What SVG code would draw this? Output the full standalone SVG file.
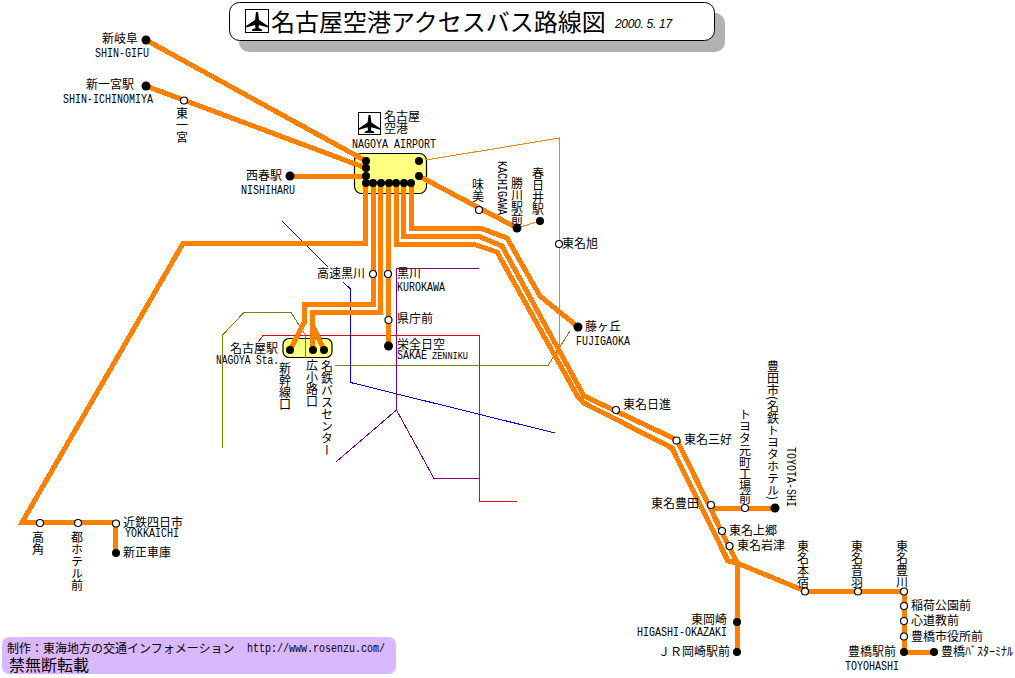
<svg xmlns="http://www.w3.org/2000/svg" width="1015" height="678" viewBox="0 0 1015 678" xml:lang="ja">
<style>
text{fill:#000;font-family:"Noto Sans CJK JP","Noto Sans CJK SC",sans-serif;font-size:12px}
.l{font-family:"Liberation Mono",monospace}
.v{writing-mode:vertical-rl}
.tk{fill:none;stroke:#ff8000;stroke-width:5;stroke-linejoin:miter;shape-rendering:crispEdges}
.th{fill:none;stroke-width:1;shape-rendering:crispEdges}
.o{fill:#fff;stroke:#000;stroke-width:1.2}
.k{fill:#000}
.box{fill:#ffff80;stroke:#000;stroke-width:1.2}
</style>
<defs>
<symbol id="plane" viewBox="0 0 24 24">
<rect x="0.5" y="0.5" width="23" height="23" fill="#fff" stroke="#000"/>
<path d="M11 3L13 3L14 11L23 17L23 18.500L14 16L13.500 19L17 20.500L17 22L7 22L7 20.500L10.500 19L10 16L1 18.500L1 17L10 11Z" fill="#000"/>
</symbol>
</defs>
<g id="title">
<rect x="239" y="13" width="486" height="39" rx="10" fill="#b2b2b2"/>
<rect x="229.500" y="2.500" width="485" height="38" rx="10" fill="#fff" stroke="#000"/>
<use href="#plane" x="245" y="9" width="24" height="24"/>
<text x="271" y="31" style="font-size:24px">名古屋空港アクセスバス路線図</text>
<text x="615" y="28" style="font-family:'Liberation Sans',sans-serif;font-style:italic;font-size:12px;letter-spacing:-0.3px">2000. 5. 17</text>
</g>
<g id="airport">
<rect class="box" x="354.500" y="153.500" width="72" height="40" rx="7"/>
<use href="#plane" x="358" y="112" width="23" height="23"/>
<text x="384" y="121">名古屋</text><text x="384" y="133">空港</text>
<text class="l" x="352" y="148" textLength="84" lengthAdjust="spacingAndGlyphs">NAGOYA AIRPORT</text>
</g>
<g id="nagoya-sta">
<rect class="box" x="283" y="338.500" width="49" height="19" rx="6"/>
<text x="230" y="353">名古屋駅</text>
<text class="l" x="216" y="364" textLength="63" lengthAdjust="spacingAndGlyphs">NAGOYA Sta.</text>
<text class="v" x="285" y="362">新幹線口</text>
<text class="v" x="312" y="359">広小路口</text>
<text class="v" x="327" y="360">名鉄バスセンター</text>
</g>
<g id="connectors">
<path class="th" stroke="#ff8000" d="M426 160L559.500 138V352M517 228L540 221"/>
<path class="th" stroke="#808000" d="M222.500 448V335L244 312.500H291L305.500 335V358M335 365.500H548L570 331"/>
<path class="th" stroke="#f00000" d="M258 342L263 335.500H479.500V501.500H517"/>
<path class="th" stroke="#800080" d="M479 268.500H396.500V410L336 462M396.500 410L434 478.500H479"/>
<path class="th" stroke="#0000f0" d="M282 221L328 267M343 282L350.500 289V382.500L555 433"/>
<path class="tk" d="M146 40L366 161M146 86L366 168M290 176H366M419 176L517 228"/>
<path class="tk" d="M365.500 183V243.500H183L22 522.500H115.500V553"/>
<path class="tk" d="M373 183V304H304.500V322L290 350"/>
<path class="tk" d="M380.500 183V312.500H312.500V350M312.500 325L324 350"/>
<path class="tk" d="M388 183V346"/>
<path class="tk" d="M396.500 183V244H473L497 252L578 397L584 403L672 448L728 561L737 563"/>
<path class="tk" d="M403.500 183V236H478L502 246L584 396L677 440L737 563L805 591H904V652H934M737 563V652M711 508H775"/>
<path class="tk" d="M411 183V228H480L507 238L540 296L578 327"/>
</g>
<g id="airport-stops">
<circle class="k" cx="366" cy="161" r="4"/><circle class="k" cx="366" cy="168" r="4"/><circle class="k" cx="366" cy="176" r="4"/><circle class="k" cx="366" cy="183" r="4"/>
<circle class="k" cx="373" cy="183" r="4"/><circle class="k" cx="381" cy="183" r="4"/><circle class="k" cx="389" cy="183" r="4"/><circle class="k" cx="396" cy="183" r="4"/><circle class="k" cx="404" cy="183" r="4"/><circle class="k" cx="411" cy="183" r="4"/>
<circle class="k" cx="419" cy="161" r="4"/><circle class="k" cx="419" cy="176" r="4"/>
</g>
<g id="nagoya-stops"><circle class="k" cx="290" cy="350" r="4"/><circle class="k" cx="313" cy="350" r="4"/><circle class="k" cx="324" cy="350" r="4"/></g>
<g id="shin-gifu"><circle class="k" cx="146" cy="40" r="4.500"/><text x="102" y="43">新岐阜</text><text class="l" x="95" y="57" textLength="54" lengthAdjust="spacingAndGlyphs">SHIN-GIFU</text></g>
<g id="shin-ichinomiya"><circle class="k" cx="146" cy="86" r="4.500"/><text x="86" y="89">新一宮駅</text><text class="l" x="63" y="103" textLength="90" lengthAdjust="spacingAndGlyphs">SHIN-ICHINOMIYA</text></g>
<g id="higashi-ichinomiya"><circle class="o" cx="184" cy="100.500" r="3.500"/><text class="v" x="182" y="107">東一宮</text></g>
<g id="nishiharu"><circle class="k" cx="290" cy="176" r="4.500"/><text x="246" y="180">西春駅</text><text class="l" x="241" y="194" textLength="54" lengthAdjust="spacingAndGlyphs">NISHIHARU</text></g>
<g id="ajima"><circle class="o" cx="479" cy="210" r="3.500"/><text class="v" x="478" y="178">味美</text></g>
<g id="kachigawa"><circle class="k" cx="517" cy="228" r="4.500"/><text class="v" x="517" y="177">勝川駅前</text><text class="v l" x="501" y="161" textLength="54" lengthAdjust="spacingAndGlyphs">KACHIGAWA</text></g>
<g id="kasugai"><circle class="k" cx="540" cy="221" r="4"/><text class="v" x="538" y="167">春日井駅</text></g>
<g id="tomei-asahi"><circle class="o" cx="559" cy="244" r="3.500"/><text x="562" y="248">東名旭</text></g>
<g id="kosoku-kurokawa"><circle class="o" cx="373" cy="274" r="3.500"/><text x="317" y="278">高速黒川</text></g>
<g id="kurokawa"><circle class="o" cx="388" cy="274" r="3.500"/><text x="397" y="278">黒川</text><text class="l" x="397" y="291" textLength="48" lengthAdjust="spacingAndGlyphs">KUROKAWA</text></g>
<g id="kencho"><circle class="o" cx="388.500" cy="320" r="3.500"/><text x="397" y="323">県庁前</text></g>
<g id="sakae"><circle class="k" cx="388.500" cy="346" r="4.500"/><text x="397" y="349">栄全日空</text><text class="l" x="397" y="359" textLength="30" lengthAdjust="spacingAndGlyphs">SAKAE</text><text class="l" x="432" y="359" textLength="36" lengthAdjust="spacingAndGlyphs" style="font-size:10px">ZENNIKU</text></g>
<g id="fujigaoka"><circle class="k" cx="578" cy="327" r="4.500"/><text x="585" y="331">藤ヶ丘</text><text class="l" x="576" y="345" textLength="54" lengthAdjust="spacingAndGlyphs">FUJIGAOKA</text></g>
<g id="tomei-nisshin"><circle class="o" cx="616" cy="410" r="3.500"/><text x="623" y="409">東名日進</text></g>
<g id="tomei-miyoshi"><circle class="o" cx="676.500" cy="440.500" r="3.500"/><text x="684" y="444">東名三好</text></g>
<g id="tomei-toyota"><circle class="o" cx="711" cy="505" r="3.500"/><text x="651" y="508">東名豊田</text></g>
<g id="toyota-motomachi"><circle class="o" cx="745" cy="508" r="3.500"/><text class="v" x="745" y="408">トヨタ元町工場前</text></g>
<g id="toyota-shi"><circle class="k" cx="775" cy="508" r="4.500"/><text class="v" x="773" y="360">豊田市(名鉄トヨタホテル)</text><text class="v l" x="790" y="447" textLength="60" lengthAdjust="spacingAndGlyphs">TOYOTA-SHI</text></g>
<g id="tomei-kamigo"><circle class="o" cx="722" cy="531" r="3.500"/><text x="729" y="535">東名上郷</text></g>
<g id="tomei-iwazu"><circle class="o" cx="729.500" cy="546" r="3.500"/><text x="737" y="550">東名岩津</text></g>
<g id="higashi-okazaki"><circle class="k" cx="737" cy="622" r="4"/><text x="691" y="624">東岡崎</text><text class="l" x="637" y="636" textLength="90" lengthAdjust="spacingAndGlyphs">HIGASHI-OKAZAKI</text></g>
<g id="jr-okazaki"><circle class="k" cx="737" cy="652" r="4"/><text x="658" y="656">ＪＲ岡崎駅前</text></g>
<g id="tomei-hongu"><circle class="o" cx="805" cy="591.500" r="3.500"/><text class="v" x="803" y="540">東名本宿</text></g>
<g id="tomei-otowa"><circle class="o" cx="858" cy="591.500" r="3.500"/><text class="v" x="857" y="540">東名音羽</text></g>
<g id="tomei-toyokawa"><circle class="o" cx="904" cy="591.500" r="3.500"/><text class="v" x="902" y="540">東名豊川</text></g>
<g id="inari"><circle class="o" cx="904" cy="606" r="3.500"/><text x="911" y="610">稲荷公園前</text></g>
<g id="shindokyo"><circle class="o" cx="904" cy="621" r="3.500"/><text x="911" y="625">心道教前</text></g>
<g id="toyohashi-shiyakusho"><circle class="o" cx="904" cy="636.500" r="3.500"/><text x="911" y="641">豊橋市役所前</text></g>
<g id="toyohashi"><circle class="k" cx="904" cy="652" r="4"/><text x="848" y="656">豊橋駅前</text><text class="l" x="845" y="670" textLength="54" lengthAdjust="spacingAndGlyphs">TOYOHASHI</text></g>
<g id="toyohashi-bt"><circle class="k" cx="934" cy="652" r="4"/><text x="941" y="656">豊橋ﾊﾞｽﾀｰﾐﾅﾙ</text></g>
<g id="kodo"><circle class="o" cx="40" cy="523" r="3.500"/><text class="v" x="38" y="531">高角</text></g>
<g id="miyako-hotel"><circle class="o" cx="78" cy="523" r="3.500"/><text class="v" x="77" y="531">都ホテル前</text></g>
<g id="yokkaichi"><circle class="o" cx="116" cy="523.500" r="3.500"/><text x="123" y="527">近鉄四日市</text><text class="l" x="125" y="537" textLength="54" lengthAdjust="spacingAndGlyphs">YOKKAICHI</text></g>
<g id="shinsho"><circle class="k" cx="116" cy="553" r="4"/><text x="123" y="557">新正車庫</text></g>
<g id="credit">
<rect x="2" y="637" width="394" height="37" rx="7" fill="#d9b8ff"/>
<text x="7" y="653">制作：東海地方の交通インフォメーション</text>
<text class="l" x="247" y="652" textLength="138" lengthAdjust="spacingAndGlyphs">http://www.rosenzu.com/</text>
<text x="9" y="671" style="font-size:16px">禁無断転載</text>
</g>
</svg>
